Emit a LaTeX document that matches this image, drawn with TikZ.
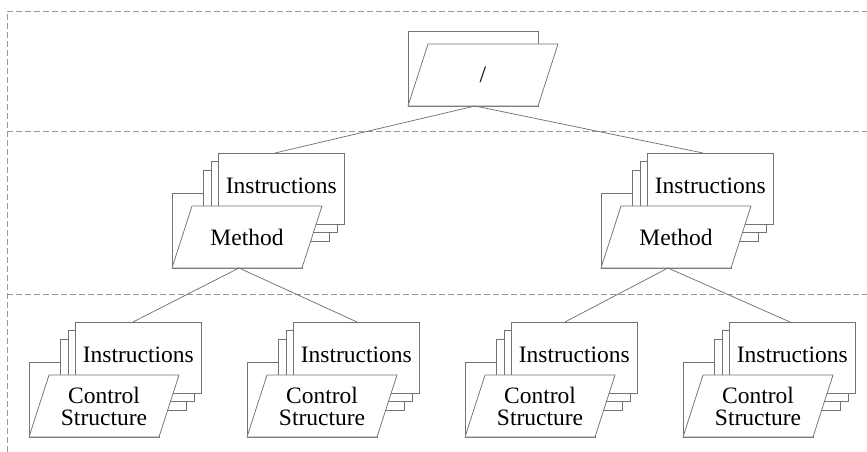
\documentclass[tikz,border=0pt]{standalone}
\usepackage{fontspec}
\setmainfont{Liberation Serif}
\usetikzlibrary{calc}

\tikzset{
  outline/.style={draw=black!55, line width=0.75pt, fill=white},
  divider/.style={draw=black!40, line width=0.8pt, dash pattern=on 6pt off 3pt},
  link/.style={draw=black!55, line width=0.75pt},
  lbl/.style={inner sep=0pt, font=\fontsize{23.5}{22}\selectfont, align=center, text=black},
}

% back sheet of a document: 130 x 75, top-left corner at (#1,#2)
\newcommand\backsheet[2]{%
  \draw[outline] (#1,#2) rectangle ++(130,75);
}
% slanted front sheet over the back sheet whose corner is (#2,#3)
\newcommand\frontsheet[4]{%
  \draw[outline] (#2,#3+75) -- ++(130,0) -- ++(20,-62) -- ++(-130,0) -- cycle;
  \node[lbl] (#1) at (#2+75,#3+44) {#4};
  \coordinate (#1-foot) at (#2+67,#3+75);
}
% stack of three instruction cards, front card's top-left corner at (#2,#3)
\newcommand\cardstack[3]{%
  \draw[outline] (#2-15,#3+17) rectangle ++(126,71);
  \draw[outline] (#2-7,#3+8) rectangle ++(126,71);
  \node[outline, inner sep=0pt, minimum width=126pt, minimum height=71pt,
        anchor=north west] (#1) at (#2,#3) {};
  \node[lbl] (#1-text) at ($(#1.north)+(0,33)$) {Instructions};
}
% a complete unit: cards plus document, with the link point on the cards
\newcommand\unitgroup[5]{%
  \backsheet{#2-46}{#3+40}
  \cardstack{#1-i}{#2}{#3}
  \frontsheet{#1}{#2-46}{#3+40}{#4}
  \coordinate (#1-head) at ($(#1-i.north west)+(#5,0)$);
}

\begin{document}
\begin{tikzpicture}[x=1pt, y=-1pt]
  \useasboundingbox (0,0) rectangle (867,452);

  % level separators
  \draw[divider] (7,452) -- (7,11) -- (867,11);
  \draw[divider] (7,131) -- (867,131);
  \draw[divider] (7,294) -- (867,294);

  % root document
  \backsheet{408}{31}
  \frontsheet{root}{408}{31}{/}

  % methods
  \unitgroup{ml}{218}{153}{Method}{57}
  \unitgroup{mr}{647}{153}{Method}{56}

  % control structures
  \unitgroup{c1}{75}{322}{Control\\Structure}{58}
  \unitgroup{c2}{293}{322}{Control\\Structure}{64}
  \unitgroup{c3}{511}{322}{Control\\Structure}{54}
  \unitgroup{c4}{729}{322}{Control\\Structure}{61}

  % tree links
  \draw[link] (root-foot) -- (ml-head);
  \draw[link] (root-foot) -- (mr-head);
  \draw[link] (ml-foot) -- (c1-head);
  \draw[link] (ml-foot) -- (c2-head);
  \draw[link] (mr-foot) -- (c3-head);
  \draw[link] (mr-foot) -- (c4-head);
\end{tikzpicture}
\end{document}
